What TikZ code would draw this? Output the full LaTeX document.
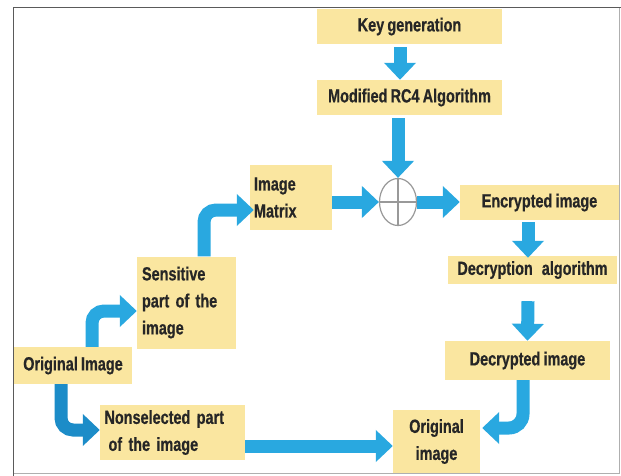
\documentclass[tikz,border=0pt]{standalone}
\usepackage{fontspec}
\setmainfont{Liberation Sans}[FakeStretch=0.76, FakeBold=0.6]
\usetikzlibrary{arrows.meta,calc,shapes.geometric}
\definecolor{boxfill}{RGB}{250,230,160}
\definecolor{flowblue}{RGB}{41,168,224}
\definecolor{flowdark}{RGB}{28,140,200}
\definecolor{framedark}{RGB}{90,90,90}
\definecolor{framelight}{RGB}{175,175,175}
% box label font with tighter word spacing
\newcommand\boxlabelfont{\bfseries\fontsize{19}{27}\selectfont
  \spaceskip 3.2pt plus 1pt minus 1pt\relax}
\begin{document}
\begin{tikzpicture}[x=1pt,y=-1pt,
  box/.style={fill=boxfill, inner sep=0pt, text=black!85, font=\boxlabelfont},
  leftbox/.style={box, align=left},
  centbox/.style={box, align=center},
  flow/.style={draw=flowblue, line width=13pt,
    -{Triangle[width=31pt,length=17pt]}},
  flowd/.style={flow, draw=flowdark},
  xorsym/.style={draw=black!40, line width=1.2pt, fill=white, ellipse,
    inner sep=0pt, minimum width=37pt, minimum height=47pt}]
\useasboundingbox (0,0) rectangle (621,476);
\fill[white] (0,0) rectangle (621,476);

% outer frame
\draw[framelight, line width=1.2pt] (619.5,7.3) -- (619.5,473.5) -- (13.5,473.5);
\draw[framedark, line width=1.5pt] (13.5,476) -- (13.5,7.3) -- (621,7.3);

% boxes
\node[centbox, minimum width=185pt, minimum height=35pt] (key) at (409.5,26.5) {Key generation};
\node[centbox, minimum width=185pt, minimum height=35pt] (rc4) at (409.5,97.5) {Modified RC4 Algorithm};
\node[xorsym] (xor) at (398,202) {};
\draw[black!40, line width=1.2pt] (xor.north) -- (xor.south) (xor.west) -- (xor.east);
\node[leftbox, minimum width=82pt, minimum height=65pt, text width=74pt] (imgmat) at (291,197.5) {Image\\Matrix};
\node[centbox, minimum width=159pt, minimum height=35pt] (enc) at (539.5,202.5) {Encrypted image};
\node[centbox, minimum width=169pt, minimum height=28pt] (dec) at (532.5,270) {Decryption\hspace{9pt}algorithm};
\node[centbox, minimum width=165pt, minimum height=39pt] (decd) at (527.5,360.5) {Decrypted image};
\node[centbox, minimum width=87pt, minimum height=63pt] (origR) at (436.5,441.5) {Original\\image};
\node[centbox, minimum width=118pt, minimum height=37pt] (orig) at (73,365.5) {Original Image};
\node[leftbox, minimum width=99pt, minimum height=92pt, text width=89pt] (sens) at (186.5,302.5) {Sensitive\\part of the\\image};
\node[leftbox, minimum width=145pt, minimum height=55pt, text width=136pt] (nonsel) at (172.5,432.5) {Nonselected part\\\hspace*{4pt}of the image};

% connectors
\draw[flow] ($(key.south)+(-9.5,3)$) -- ($(rc4.north)+(-9.5,0)$);
\draw[flow] ($(xor.north |- rc4.south)+(0,3)$) -- (xor.north);
\draw[flow] (imgmat.east |- xor.west) -- (xor.west);
\draw[flow] (xor.east) -- (enc.west |- xor.east);
\draw[flow] ($(enc.south)+(-11.5,2)$) -- ($(dec.north)+(-4.5,2)$);
\draw[flow] ($(dec.south)+(-4.5,17)$) -- (decd.north);
\draw[flow, rounded corners=14pt] ($(decd.south)+(-4.5,0)$) |- ($(origR.east)+(2,-13.5)$);
\draw[flow] ($(nonsel.east)+(0,13.5)$) -- ($(origR.west)+(0,4.5)$);
\draw[flow, rounded corners=12pt] ($(orig.north)+(19,0)$) |- ($(sens.west)+(0,8.5)$);
\draw[flowd, rounded corners=12pt] ($(orig.south)+(-12,0)$) |- ($(nonsel.west)+(0,-2.5)$);
\draw[flow, rounded corners=12pt] ($(sens.north)+(17.5,0)$) |- ($(imgmat.west)+(4,12.5)$);
\end{tikzpicture}
\end{document}
